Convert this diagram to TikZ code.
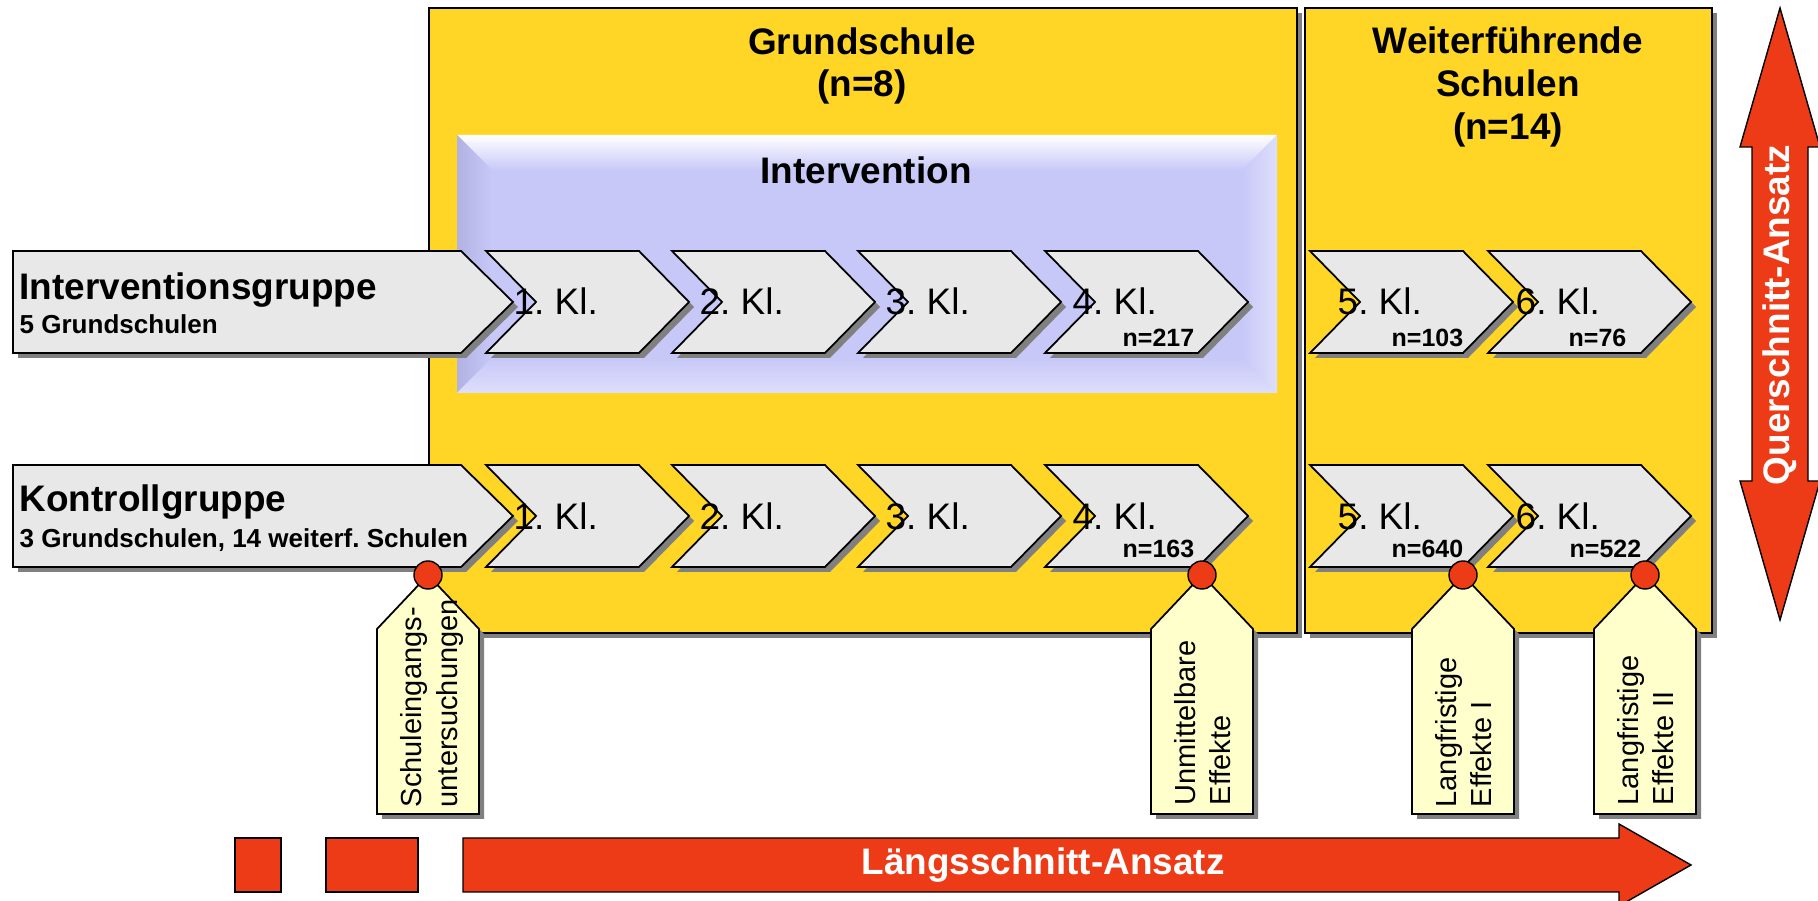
\documentclass[tikz,border=0pt]{standalone}
\usepackage{fontspec}
\setmainfont{Liberation Sans}
\usetikzlibrary{shadows}
\frenchspacing

\definecolor{gelb}{RGB}{255,213,38}
\definecolor{lavendel}{RGB}{200,200,248}
\definecolor{lavdunkel}{RGB}{178,178,226}
\definecolor{lavhell}{RGB}{222,222,252}
\definecolor{hellgrau}{RGB}{232,232,232}
\definecolor{zettel}{RGB}{255,255,204}
\definecolor{signalrot}{RGB}{238,59,23}
\definecolor{schattengrau}{RGB}{128,128,128}

\tikzset{
  schatten/.style={drop shadow={shadow xshift=0.05cm, shadow yshift=-0.05cm, fill=schattengrau, opacity=1}},
  schulblock/.style={fill=gelb, draw=black, line width=0.6pt, schatten},
  winkelpfeil/.style={fill=hellgrau, draw=black, line width=0.5pt, schatten},
  zettelbox/.style={fill=zettel, draw=black, line width=0.5pt, schatten},
  rotpfeil/.style={fill=signalrot, draw=black, line width=0.4pt},
  punkt/.style={circle, fill=signalrot, draw=black, line width=0.4pt, minimum size=0.28cm, inner sep=0pt},
  klasse/.style={anchor=base west, inner sep=0pt, font=\fontsize{10.5}{12.6}\selectfont},
  anzahl/.style={anchor=base west, inner sep=0pt, font=\fontsize{7.1}{8.5}\selectfont\bfseries},
  titel/.style={align=center, inner sep=0pt, font=\fontsize{10.5}{12.2}\selectfont\bfseries},
  gruppe/.style={anchor=base west, inner sep=0pt, font=\fontsize{10.5}{12.6}\selectfont\bfseries},
  untertitel/.style={anchor=base west, inner sep=0pt, font=\fontsize{7.4}{9}\selectfont\bfseries},
  zetteltext/.style={rotate=90, anchor=west, align=left, inner sep=0pt, font=\fontsize{8.25}{9.96}\selectfont},
  ansatz/.style={inner sep=0pt, text=white, font=\fontsize{10.5}{12.6}\selectfont\bfseries},
}

% chevron: left x, top y
\def\Winkel#1#2{
  \draw[winkelpfeil] (#1,#2) -- ++(153,0) -- ++(50,51) -- ++(-50,51) -- ++(-153,0) -- ++(50,-51) -- cycle;
}
% tag below the rows: centre x
\def\Zettel#1{
  \draw[zettelbox] (#1-51,629) -- (#1,575) -- (#1+51,629) -- (#1+51,814) -- (#1-51,814) -- cycle;
}

\begin{document}
\begin{tikzpicture}[x=0.01cm, y=-0.01cm]
  \useasboundingbox (0,0) rectangle (1818,901);

  % school blocks
  \draw[schulblock] (429,8) rectangle (1297,633);
  \draw[schulblock] (1305,8) rectangle (1712,633);
  \node[titel] (gs) at (862,66) {Grundschule\\(n=8)};
  \node[titel] (ws) at (1508,87) {Weiterführende\\Schulen\\(n=14)};

  % intervention panel
  \fill[lavendel] (457,135) rectangle (1277,393);
  \shade[top color=white, bottom color=lavendel] (457,135) -- (1277,135) -- (1242,170) -- (492,170) -- cycle;
  \shade[left color=lavdunkel, right color=lavendel] (457,135) -- (492,170) -- (492,358) -- (457,393) -- cycle;
  \shade[left color=lavendel, right color=lavhell] (1277,135) -- (1242,170) -- (1242,358) -- (1277,393) -- cycle;
  \shade[top color=lavendel, bottom color=lavhell] (457,393) -- (492,358) -- (1242,358) -- (1277,393) -- cycle;
  \node[titel] (iv) at (866,170) {Intervention};

  % groups
  \draw[winkelpfeil] (13,251) -- (461,251) -- (513,302) -- (461,353) -- (13,353) -- cycle;
  \draw[winkelpfeil] (13,465) -- (461,465) -- (513,516) -- (461,567) -- (13,567) -- cycle;
  \node[gruppe] (ig) at (19,300) {Interventionsgruppe};
  \node[untertitel] (igs) at (19,334) {5 Grundschulen};
  \node[gruppe] (kg) at (19,512) {Kontrollgruppe};
  \node[untertitel] (kgs) at (19,548) {3 Grundschulen, 14 weiterf. Schulen};

  % grades
  \foreach \x/\k in {486/1,672/2,858/3,1045/4,1310/5,1488/6}{
    \Winkel{\x}{251}
    \Winkel{\x}{465}
    \node[klasse] (i\k) at (\x+27,315) {\k. Kl.};
    \node[klasse] (k\k) at (\x+27,530) {\k. Kl.};
  }
  \node[anzahl] (ni4) at (1122,347) {n=217};
  \node[anzahl] (nk4) at (1122,558) {n=163};
  \node[anzahl] (ni5) at (1391,347) {n=103};
  \node[anzahl] (nk5) at (1391,558) {n=640};
  \node[anzahl] (ni6) at (1568,347) {n=76};
  \node[anzahl] (nk6) at (1569,558) {n=522};

  % measurement points
  \foreach \x/\n in {428/p1,1202/p2,1463/p3,1645/p4}{
    \Zettel{\x}
    \node[punkt] (\n) at (\x,575) {};
  }
  \node[zetteltext] (t1) at (432,808) {Schuleingangs-\\untersuchungen};
  \node[zetteltext] (t2) at (1203,806) {Unmittelbare\\Effekte};
  \node[zetteltext] (t3) at (1464,808) {Langfristige\\Effekte I};
  \node[zetteltext] (t4) at (1646,806) {Langfristige\\Effekte II};

  % approaches
  \draw[rotpfeil] (235,838) rectangle (281,892);
  \draw[rotpfeil] (326,838) rectangle (418,892);
  \draw[rotpfeil] (463,838) -- (1619,838) -- (1619,824) -- (1691,865) -- (1619,906) -- (1619,892) -- (463,892) -- cycle;
  \node[ansatz] (ls) at (1043,865) {Längsschnitt-Ansatz};
  \draw[rotpfeil] (1780,8) -- (1820,147) -- (1808,147) -- (1808,481) -- (1820,481) -- (1780,620) -- (1740,481) -- (1752,481) -- (1752,147) -- (1740,147) -- cycle;
  \node[ansatz, rotate=90] (qs) at (1780,315) {Querschnitt-Ansatz};
\end{tikzpicture}
\end{document}
